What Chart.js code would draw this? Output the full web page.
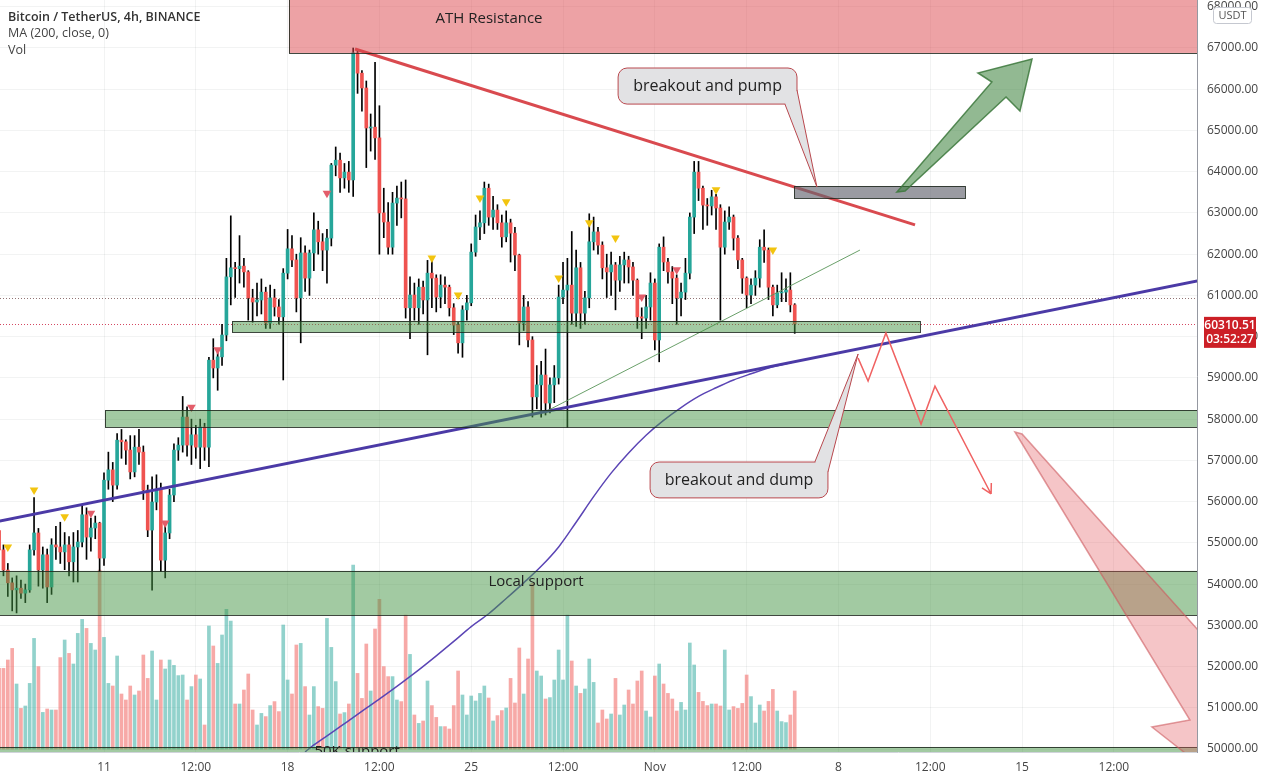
<!DOCTYPE html>
<html>
<head>
<meta charset="utf-8">
<title>BTCUSDT 4h</title>
<script src="https://cdn.jsdelivr.net/npm/chart.js@4.4.1/dist/chart.umd.min.js"></script>
<style>
  html, body { margin: 0; padding: 0; background: #fff; }
  #wrap { width: 1267px; height: 781px; position: relative; }
</style>
</head>
<body>
<div id="wrap"><canvas id="btcChart"></canvas></div>
<script>
// 4h candles, index 24 = Oct 11 00:00
const firstOpen = 55300;
const closes = [
  54830, 54340, 54030, 53860, 53900, 53780, 53860, 54830, 55240, 54340,
  54710, 53930, 54950, 54900, 54780, 54950, 54540, 54900, 55020, 55680,
  55140, 55360, 55480, 54630, 56520, 56770, 56400, 57490, 57450, 57250,
  56720, 57320, 57200, 56280, 55310, 55990, 56280, 54580, 55240, 56160,
  57250, 57370, 58050, 57370, 57620, 57320, 57810, 57320, 59430, 59240,
  59510, 60040, 61450, 61670, 61650, 61710, 61570, 60940, 60840, 60890,
  61080, 60330, 60940, 60720, 60480, 61540, 62130, 61860, 60940, 62030,
  61420, 62030, 62590, 62300, 62100, 62390, 64160, 64280, 63850, 63990,
  63800, 66880, 66390, 66030, 65060, 65080, 64820, 63000, 62780, 62170,
  63240, 63360, 63340, 60700, 61010, 60700, 61200, 60890, 61540, 61420,
  60960, 61250, 61200, 60700, 60280, 59850, 60650, 60820, 62050, 62660,
  62760, 63600, 62900, 63070, 62760, 62420, 62760, 62510, 61980, 60330,
  60720, 59920, 58540, 58830, 59070, 58390, 58830, 59000, 60960, 61130,
  61250, 60570, 61670, 60570, 60940, 62300, 62540, 62220, 61670, 61570,
  61740, 61370, 61740, 61860, 61690, 61370, 60480, 60450, 60720, 61300,
  59920, 62170, 61810, 61570, 61420, 60940, 61080, 61540, 62900, 63990,
  63600, 63190, 63170, 63390, 63120, 62170, 62780, 62900, 62390, 61860,
  61420, 61010, 61250, 61420, 62170, 62100, 61200, 60770, 61060, 61080,
  61130, 60770, 60310.51
];
const highs = [
  55500, 54950, 54500, 54150, 54200, 54100, 54000, 54950, 56100, 55350,
  54900, 54850, 55100, 55400, 55500, 55250, 55150, 55250, 55300, 55920,
  55850, 55600, 55650, 55500, 56700, 57200, 56950, 57650, 57750, 57500,
  57600, 57600, 57750, 57350, 56400, 56600, 56650, 56450, 55400, 56300,
  57400, 57550, 58550, 58300, 58000, 57850, 58000, 57900, 59500, 59950,
  59700, 60300, 61900, 62930, 61800, 62450, 61900, 61600, 61150, 61300,
  61400, 61200, 61250, 61150, 60900, 61650, 62600, 62450, 62000, 62400,
  62200, 62100, 63000, 62800, 62500, 62600, 64200, 64600, 64450, 64200,
  64250, 67000, 66950, 66450, 66200, 65400, 66650, 65600, 63600, 63250,
  63500, 63650, 63750, 63800, 61450, 61300, 61400, 61350, 61850, 61950,
  61500, 61500, 61450, 61250, 60800, 60350, 60750, 61000, 62250, 62950,
  63050, 63750, 63700, 63400, 63200, 62950, 63050, 62850, 62650, 62000,
  61000, 60850, 60000, 59300, 59400, 59700, 59000, 59300, 61250, 61800,
  61900, 62550, 62100, 61800, 61100, 62980, 62900, 62650, 62300, 62000,
  62050, 61800, 61950, 62050, 61950, 61800, 61400, 60700, 61000, 61550,
  61400, 62250, 62420, 61900, 61700, 61500, 61300, 61900, 63000, 64250,
  64250, 63650, 63350, 63550, 63450, 63200, 63050, 63150, 62950, 62450,
  61900, 61450, 61400, 61600, 62350, 62590, 62150, 61250, 61250, 61550,
  61400, 61550, 60800
];
const lows = [
  54700, 54200, 53700, 53350, 53300, 53650, 53550, 53800, 54700, 53950,
  53900, 53550, 53750, 54600, 54500, 54350, 54200, 54050, 54050, 54900,
  54600, 54800, 55100, 54300, 54450, 56300, 56000, 56300, 57050, 56900,
  56550, 56600, 56900, 56050, 55150, 53850, 55800, 54300, 54150, 55100,
  56000, 57000, 57200, 57100, 56900, 57050, 56800, 57000, 56850, 59000,
  58700, 59300, 59900, 60770, 60950, 61300, 61200, 60400, 60350, 60500,
  60550, 60200, 60200, 60500, 60300, 58950, 61400, 61700, 60600, 59850,
  61100, 61000, 61600, 62000, 61600, 61300, 62200, 63900, 63500, 63600,
  63500, 63400, 65900, 65470, 64100, 64500, 64300, 62000, 62400, 62000,
  62000, 62700, 62880, 60450, 59950, 60400, 60300, 60550, 59560, 60700,
  60600, 60700, 60800, 60500, 60050, 59600, 59500, 60400, 60750, 61950,
  62350, 62500, 62700, 62600, 62600, 62170, 62300, 61810, 61600, 59800,
  60150, 59750, 58050, 58250, 58050, 58100, 58150, 58400, 58850, 60800,
  57800, 60300, 60250, 60200, 60300, 60700, 62100, 62000, 61400, 60950,
  61000, 60650, 61100, 61300, 61300, 61000, 60200, 59950, 60200, 60400,
  59680, 59390, 61600, 61300, 60800, 60300, 60500, 60900, 61400, 62500,
  63300, 62600, 62700, 62950, 62600, 60400, 62000, 62600, 62100, 61650,
  61050, 60700, 60800, 61000, 61200, 61800, 60900, 60500, 60700, 60850,
  60850, 60600, 60080
];
const volumes = [
  4030, 4030, 4450, 5030, 3250, 2030, 2150, 3280, 5530, 4120,
  1830, 2000, 1950, 1950, 4570, 5450, 4780, 4250, 5780, 6480,
  6030, 5280, 4950, 8950, 5580, 3280, 3150, 4650, 2750, 2450,
  3150, 2700, 2900, 4700, 3530, 4900, 2450, 4450, 4000, 4450,
  4180, 3670, 3700, 2450, 3120, 3700, 3500, 1200, 6150, 5150,
  4280, 5700, 6980, 6400, 2250, 2250, 2950, 3750, 1950, 1200,
  1780, 1620, 2170, 2370, 1870, 6200, 3450, 2750, 5200, 5280,
  3120, 1700, 3120, 2120, 2030, 6530, 5080, 3370, 1750, 1820,
  2250, 9200, 3780, 2530, 5250, 2900, 6000, 7480, 4120, 3620,
  3620, 2450,
  2370, 6700, 4730, 1700, 1280, 1400, 3400, 2170, 1580, 1120,
  1120, 1000, 2170, 3900, 2700, 1700, 2650, 2400, 2780, 3150,
  2550, 1400, 1670, 1920, 2050, 3530, 2300, 5050, 2750, 4500,
  8280, 3900, 3650, 2500, 2570, 3450, 4950, 3450, 6700, 4400,
  3150, 2780, 3000, 4500, 3330, 1300, 1950, 1500, 1750, 3530,
  1700, 2200, 2950, 2250, 3400, 3900, 1900, 1600, 3650, 4250,
  3250, 2780, 2500, 1900, 2330, 1950, 5300, 4200, 2830, 2380,
  2170, 2250, 2250, 2150, 4950, 1950, 2120, 2030, 2280, 3700,
  2620, 1300, 2200, 1900, 2380, 2980, 1900, 1370, 1320, 1700,
  2900
];
// MA (200, close)
const maIndex = [70, 72, 76, 80, 84, 88, 92, 96, 100, 104, 108, 112, 116, 120, 124,
  128, 132, 136, 140, 144, 148, 152, 156, 160, 164, 168, 172, 176, 182];
const maValues = [49930, 50100, 50390, 50690, 50990, 51290, 51600, 51920, 52260, 52610,
  52970, 53280, 53650, 54030, 54430, 54900, 55500, 56120, 56690, 57180,
  57610, 57970, 58280, 58550, 58760, 58950, 59100, 59240, 59390];
// signal triangles
const yellowSignals = [2, 8, 15, 99, 105, 110, 116, 128, 135, 141, 164, 177];
const yellowLevels = [54900, 56280, 55630, 61910, 61010, 63360, 63270, 61420, 62760, 62390, 63560, 62100];
const redSignals = [21, 38, 44, 50, 75, 147, 155];
const redLevels = [55720, 55480, 58290, 59680, 63480, 60960, 61620];

const priceTicks = [50000, 51000, 52000, 53000, 54000, 55000, 56000, 57000, 58000,
  59000, 60000, 61000, 62000, 63000, 64000, 65000, 66000, 67000, 68000];
const timeTicks = [0, 3.5, 7, 10.5, 14, 17.5, 21, 24.5, 28, 31.5, 35, 38.5];
const timeLabels = ['11', '12:00', '18', '12:00', '25', '12:00', 'Nov', '12:00', '8', '12:00', '15', '12:00'];
const lastPrice = 60310.51;
const prevLine = 60940;

// drawings, in [day, price]
const redTrend = [[9.57, 66975], [30.92, 62710]];
const purpleTrend = [[-4, 55525], [42, 61390]];
const thinTrend = [[16.89, 58200], [28.82, 62100]];
const zigzag = [[28.75, 59480], [29.13, 58925], [29.81, 60090], [31.15, 57880], [31.68, 58800], [33.82, 56185]];
const greenArrow = [[30.23, 63508], [33.85, 66175], [33.32, 66394], [35.38, 66733], [34.92, 65472], [34.39, 65812], [30.54, 63532]];
const redArrow = [[34.73, 57688], [41.40, 50704], [39.95, 50534], [43.5, 48764], [44.15, 52644], [42.74, 52159], [35.0, 57640]];

const greenFill = 'rgba(70,150,70,0.5)';
const boxes = [
  { d1: 7.05, d2: 46, p1: 68500, p2: 66880, fill: 'rgba(220,70,75,0.5)', text: 'ATH Resistance', tx: 14.68, tp: 67700 },
  { d1: 26.31, d2: 32.83, p1: 63650, p2: 63360, fill: 'rgba(100,102,112,0.65)' },
  { d1: 4.88, d2: 31.11, p1: 60380, p2: 60110, fill: greenFill },
  { d1: 0.04, d2: 46, p1: 58220, p2: 57810, fill: greenFill },
  { d1: -5, d2: 46, p1: 54320, p2: 53250, fill: greenFill, text: 'Local support', tx: 16.47, tp: 54050 },
  { d1: -5, d2: 46, p1: 50050, p2: 49700, fill: greenFill, text: '50K support', tx: 9.65, tp: 49930 }
];
const callouts = [
  { d1: 19.6, d2: 26.42, p1: 66515, p2: 65640, text: 'breakout and pump', tail: [[25.96, 65640], [27.18, 63630], [26.42, 65980]] },
  { d1: 20.82, d2: 27.6, p1: 56960, p2: 56090, text: 'breakout and dump', tail: [[27.1, 56960], [28.75, 59580], [27.6, 56720]] }
];

const dayOf = i => (i - 24) / 6;
const opens = closes.map((c, i) => i === 0 ? firstOpen : closes[i - 1]);
const isUp = closes.map((c, i) => c >= opens[i]);

Chart.defaults.font.family = '"Open Sans", "Noto Sans", sans-serif';
const gridColor = 'rgba(42,46,57,0.06)';

function roundRect(ctx, x, y, w, h, r) {
  ctx.beginPath();
  ctx.moveTo(x + r, y);
  ctx.arcTo(x + w, y, x + w, y + h, r);
  ctx.arcTo(x + w, y + h, x, y + h, r);
  ctx.arcTo(x, y + h, x, y, r);
  ctx.arcTo(x, y, x + w, y, r);
  ctx.closePath();
}

// no automatic label padding, the plot runs to the edges like the original
function noPad(s) {
  s.paddingTop = 0;
  s.paddingBottom = 0;
  s.paddingLeft = 0;
  s.paddingRight = 0;
}

const drawingsPlugin = {
  id: 'drawings',
  beforeDatasetsDraw(chart) {
    const { ctx, chartArea: a, scales: { y } } = chart;
    ctx.save();
    ctx.lineWidth = 1;
    ctx.setLineDash([1, 2]);
    [[prevLine, 'rgba(110,70,70,0.75)'], [lastPrice, 'rgba(205,40,70,0.85)']].forEach(([v, c]) => {
      const yy = Math.round(y.getPixelForValue(v)) + 0.5;
      ctx.strokeStyle = c;
      ctx.beginPath();
      ctx.moveTo(a.left, yy);
      ctx.lineTo(a.right, yy);
      ctx.stroke();
    });
    ctx.restore();
  },
  afterDatasetsDraw(chart) {
    const { ctx, chartArea: a, scales: { x, y } } = chart;
    const P = ([d, p]) => [x.getPixelForValue(d), y.getPixelForValue(p)];
    ctx.save();
    ctx.beginPath();
    ctx.rect(a.left, a.top, a.right - a.left, a.bottom - a.top);
    ctx.clip();

    // rectangles
    boxes.forEach(b => {
      const [x1, y1] = P([b.d1, b.p1]);
      const [x2, y2] = P([b.d2, b.p2]);
      ctx.fillStyle = b.fill;
      ctx.fillRect(x1, y1, x2 - x1, y2 - y1);
      ctx.strokeStyle = 'rgba(30,40,30,0.85)';
      ctx.lineWidth = 1;
      ctx.strokeRect(Math.round(x1) + 0.5, Math.round(y1) + 0.5, Math.round(x2 - x1), Math.round(y2 - y1));
      if (b.text) {
        const [tx, ty] = P([b.tx, b.tp]);
        ctx.fillStyle = '#222';
        ctx.font = '15px "Open Sans", sans-serif';
        ctx.textAlign = 'center';
        ctx.textBaseline = 'middle';
        ctx.fillText(b.text, tx, ty);
      }
    });

    // big arrows
    const poly = (pts, fill, stroke) => {
      ctx.beginPath();
      pts.map(P).forEach(([px, py], i) => i ? ctx.lineTo(px, py) : ctx.moveTo(px, py));
      ctx.closePath();
      ctx.fillStyle = fill;
      ctx.fill();
      ctx.strokeStyle = stroke;
      ctx.lineWidth = 1.5;
      ctx.stroke();
    };
    poly(greenArrow, 'rgba(56,128,56,0.55)', 'rgba(60,120,60,0.85)');
    poly(redArrow, 'rgba(225,90,95,0.35)', 'rgba(205,90,95,0.6)');

    // zigzag path with arrow head
    const zz = zigzag.map(P);
    ctx.strokeStyle = '#f06262';
    ctx.lineWidth = 1.5;
    ctx.beginPath();
    zz.forEach(([px, py], i) => i ? ctx.lineTo(px, py) : ctx.moveTo(px, py));
    const [ex, ey] = zz[zz.length - 1];
    const [bx, by] = zz[zz.length - 2];
    const ang = Math.atan2(ey - by, ex - bx);
    [0.5, -0.5].forEach(s => {
      ctx.moveTo(ex, ey);
      ctx.lineTo(ex - 11 * Math.cos(ang + s), ey - 11 * Math.sin(ang + s));
    });
    ctx.stroke();

    // callouts
    callouts.forEach(c => {
      const [x1, y1] = P([c.d1, c.p1]);
      const [x2, y2] = P([c.d2, c.p2]);
      const tail = c.tail.map(P);
      const fill = '#e2e2e4';
      const edge = '#b9484e';
      const tri = () => {
        ctx.beginPath();
        ctx.moveTo(tail[0][0], tail[0][1]);
        ctx.lineTo(tail[1][0], tail[1][1]);
        ctx.lineTo(tail[2][0], tail[2][1]);
        ctx.closePath();
      };
      const tailEdges = () => {
        ctx.beginPath();
        ctx.moveTo(tail[0][0], tail[0][1]);
        ctx.lineTo(tail[1][0], tail[1][1]);
        ctx.lineTo(tail[2][0], tail[2][1]);
        ctx.stroke();
      };
      ctx.lineWidth = 1;
      ctx.fillStyle = fill;
      ctx.strokeStyle = edge;
      tri(); ctx.fill();
      roundRect(ctx, x1, y1, x2 - x1, y2 - y1, 9);
      ctx.fill();
      ctx.stroke();
      tri(); ctx.fill();
      tailEdges();
      ctx.fillStyle = '#222';
      ctx.font = '16px "Open Sans", sans-serif';
      ctx.textAlign = 'center';
      ctx.textBaseline = 'middle';
      ctx.fillText(c.text, (x1 + x2) / 2, (y1 + y2) / 2);
    });
    ctx.restore();
  },
  afterDraw(chart) {
    const { ctx, chartArea: a, scales: { y } } = chart;
    ctx.save();
    // legend lines
    ctx.textAlign = 'left';
    ctx.textBaseline = 'middle';
    ctx.fillStyle = '#333';
    ctx.font = '600 12.5px "Open Sans", sans-serif';
    ctx.fillText('Bitcoin / TetherUS, 4h, BINANCE', 8, 17);
    ctx.font = '12.5px "Open Sans", sans-serif';
    ctx.fillStyle = '#444';
    ctx.fillText('MA (200, close, 0)', 8, 33);
    ctx.fillText('Vol', 8, 50);

    // currency tag, sits over the top price label
    roundRect(ctx, a.right + 16.5, 7.5, 38, 16, 3);
    ctx.fillStyle = '#fff';
    ctx.fill();
    ctx.strokeStyle = '#c5c8d0';
    ctx.lineWidth = 1;
    ctx.stroke();
    ctx.fillStyle = '#555';
    ctx.font = '11px "Open Sans", sans-serif';
    ctx.textAlign = 'center';
    ctx.fillText('USDT', a.right + 35.5, 16);

    // last price label
    const ly = y.getPixelForValue(lastPrice);
    ctx.fillStyle = '#cc1f26';
    ctx.fillRect(a.right + 7, ly - 7, 52, 31);
    ctx.fillStyle = '#fff';
    ctx.font = '600 12px "Open Sans", sans-serif';
    ctx.fillText(lastPrice.toFixed(2), a.right + 33, ly + 2);
    ctx.fillText('03:52:27', a.right + 33, ly + 16);
    ctx.restore();
  }
};

const lineSet = (pts, color, width, order) => ({
  type: 'line',
  data: pts.map(([d, p]) => ({ x: d, y: p })),
  borderColor: color,
  borderWidth: width,
  pointRadius: 0,
  yAxisID: 'y',
  order: order
});

const markerSet = (idx, levels, color) => ({
  type: 'line',
  showLine: false,
  data: idx.map((k, j) => ({ x: dayOf(k), y: levels[j] })),
  pointStyle: 'triangle',
  rotation: 180,
  pointRadius: 5,
  pointBackgroundColor: color,
  pointBorderWidth: 0,
  yAxisID: 'y',
  order: 1
});

const ctx = document.getElementById('btcChart').getContext('2d');
const btcChart = new Chart(ctx, {
  type: 'bar',
  data: {
    datasets: [
      {
        label: 'Vol',
        data: volumes.map((v, i) => ({ x: dayOf(i), y: v })),
        backgroundColor: isUp.map(u => u ? 'rgba(38,166,154,0.5)' : 'rgba(239,83,80,0.5)'),
        barThickness: 3,
        grouped: false,
        yAxisID: 'yv',
        order: 10
      },
      {
        type: 'line',
        label: 'MA 200',
        data: maIndex.map((k, j) => ({ x: dayOf(k), y: maValues[j] })),
        borderColor: '#5b45b5',
        borderWidth: 1.5,
        pointRadius: 0,
        cubicInterpolationMode: 'monotone',
        yAxisID: 'y',
        order: 7
      },
      {
        label: 'wick',
        data: highs.map((h, i) => ({ x: dayOf(i), y: [lows[i], h] })),
        backgroundColor: '#000',
        barThickness: 1,
        grouped: false,
        yAxisID: 'y',
        order: 6
      },
      {
        label: 'body',
        data: closes.map((c, i) => ({ x: dayOf(i), y: [opens[i], c] })),
        backgroundColor: isUp.map(u => u ? '#26a69a' : '#ef5350'),
        barThickness: 3,
        minBarLength: 1,
        grouped: false,
        yAxisID: 'y',
        order: 5
      },
      lineSet(thinTrend, 'rgba(90,150,90,0.9)', 1, 3),
      lineSet(redTrend, '#d94a4f', 3, 3),
      lineSet(purpleTrend, '#4b3aa6', 3, 3),
      markerSet(yellowSignals, yellowLevels, '#f2c40f'),
      markerSet(redSignals, redLevels, '#e35d6a')
    ]
  },
  options: {
    responsive: true,
    maintainAspectRatio: false,
    animation: false,
    layout: { padding: 0, autoPadding: false },
    plugins: {
      legend: { display: false },
      tooltip: { enabled: false }
    },
    scales: {
      x: {
        type: 'linear',
        min: -3.965,
        max: 41.67,
        offset: false,
        grid: { color: gridColor, drawTicks: false, offset: false },
        border: { display: true, color: '#d1d4dc' },
        ticks: {
          padding: 8,
          color: '#444',
          font: { size: 12 },
          autoSkip: false,
          maxRotation: 0,
          callback: function(value) {
            const k = timeTicks.indexOf(value);
            return k >= 0 ? timeLabels[k] : '';
          }
        },
        afterBuildTicks: s => { s.ticks = timeTicks.map(v => ({ value: v })); },
        afterFit: s => { s.height = 29; noPad(s); }
      },
      y: {
        position: 'right',
        min: 49928,
        max: 68164,
        grid: { color: gridColor, drawTicks: false },
        border: { display: true, color: '#9598a1' },
        ticks: {
          padding: 10,
          color: '#444',
          font: { size: 12 },
          autoSkip: false,
          callback: function(value) {
            return value.toFixed(2);
          }
        },
        afterBuildTicks: s => { s.ticks = priceTicks.map(v => ({ value: v })); },
        afterFit: s => { s.width = 70; noPad(s); }
      },
      yv: {
        display: false,
        min: -150,
        max: 37450
      }
    }
  },
  plugins: [drawingsPlugin]
});
</script>
</body>
</html>
